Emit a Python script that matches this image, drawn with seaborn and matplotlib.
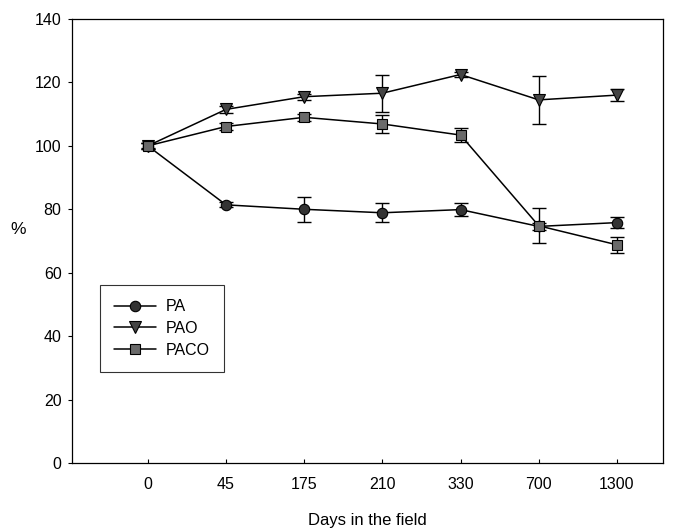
import matplotlib
matplotlib.use("Agg")
import matplotlib.pyplot as plt
import seaborn as sns
import pandas as pd
import numpy as np
from matplotlib.lines import Line2D

days = ["0", "45", "175", "210", "330", "700", "1300"]
pa = [100, 81.4, 80.0, 78.9, 79.9, 74.6, 75.8]
pa_err = [1.0, 0.8, 4.0, 3.0, 2.0, 1.0, 1.7]
pao = [100, 111.5, 115.5, 116.6, 122.5, 114.5, 116.0]
pao_err = [0.8, 1.0, 1.0, 5.8, 0.8, 7.6, 1.8]
paco = [100, 106.1, 109.0, 106.9, 103.4, 74.8, 68.8]
paco_err = [1.0, 1.0, 1.2, 2.8, 2.2, 5.5, 2.6]

series = ["PA", "PAO", "PACO"]
values = {"PA": pa, "PAO": pao, "PACO": paco}
errors = {"PA": pa_err, "PAO": pao_err, "PACO": paco_err}
markers = {"PA": "o", "PAO": "v", "PACO": "s"}
msizes = {"PA": 7.5, "PAO": 8.5, "PACO": 7.5}
fills = {"PA": "#333333", "PAO": "#444444", "PACO": "#6a6a6a"}

rows = []
for s in series:
    for i, d in enumerate(days):
        rows.append({"pos": i, "day": d, "value": values[s][i], "err": errors[s][i], "series": s})
df = pd.DataFrame(rows)

sns.set_theme(style="ticks")
plt.rcParams["font.family"] = ["Liberation Sans", "DejaVu Sans"]
plt.rcParams["text.color"] = "black"
plt.rcParams["axes.labelcolor"] = "black"
plt.rcParams["xtick.color"] = "black"
plt.rcParams["ytick.color"] = "black"

fig = plt.figure(figsize=(6.82, 5.32), dpi=100)
ax = fig.add_axes([72/682, 1 - 463/532, 591/682, 444/532])

for s in series:
    sub = df[df["series"] == s]
    ax.errorbar(sub["pos"], sub["value"], yerr=sub["err"], fmt="none",
                ecolor="black", elinewidth=1.0, capsize=5, capthick=1.0, zorder=2)

sns.lineplot(data=df, x="pos", y="value", hue="series", style="series",
             hue_order=series, style_order=series,
             palette={s: "black" for s in series},
             markers=markers, dashes=False, markersize=7.5, linewidth=1.1,
             markeredgecolor="black", markeredgewidth=0.8, ax=ax, legend=False, zorder=3)

for line, s in zip(ax.lines[-3:], series):
    line.set_markerfacecolor(fills[s])
    line.set_markersize(msizes[s])

handles = [Line2D([0], [0], color="black", lw=1.1, marker=markers[s], markersize=msizes[s],
                  markerfacecolor=fills[s], markeredgecolor="black", markeredgewidth=0.8)
           for s in series]
leg = ax.legend(handles, series, loc="lower left", bbox_to_anchor=(0.047, 0.205),
                borderaxespad=0, frameon=True, fancybox=False, edgecolor="black",
                fontsize=11.5, handlelength=2.6, borderpad=0.9, labelspacing=0.42,
                handletextpad=0.6)
leg.get_frame().set_linewidth(0.8)

ax.set_xlim(-0.97, 6.59)
ax.set_ylim(0, 140)
ax.set_xticks(range(len(days)))
ax.set_xticklabels(days)
ax.set_yticks(np.arange(0, 141, 20))
ax.tick_params(axis="x", direction="in", length=3, width=0.8, labelsize=11.5, pad=10)
ax.tick_params(axis="y", direction="out", length=3, width=0.8, labelsize=11.5, pad=4.5)
for sp in ax.spines.values():
    sp.set_visible(True)
    sp.set_linewidth(0.9)
    sp.set_color("black")
ax.set_xlabel("Days in the field", fontsize=12, labelpad=15)
ax.set_ylabel("%", fontsize=12.5, rotation=0, va="center", ha="center")
ax.yaxis.set_label_coords(-0.091, 0.525)

fig.savefig("out.png", dpi=100)
